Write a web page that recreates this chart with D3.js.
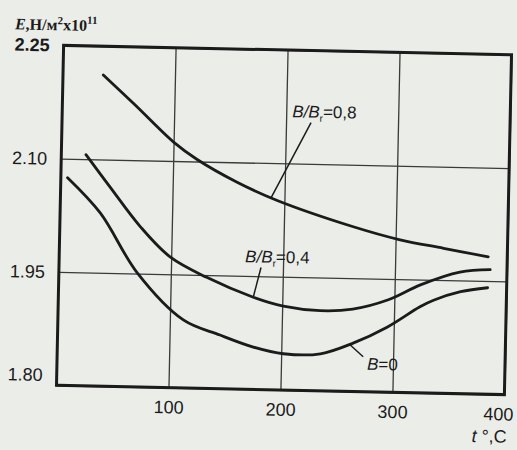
<!DOCTYPE html>
<html>
<head>
<meta charset="utf-8">
<script src="https://cdn.jsdelivr.net/npm/d3@7"></script>
<style>
  html, body { margin: 0; padding: 0; background: #ebede9; }
  svg { display: block; }
</style>
</head>
<body>
<svg id="chart" width="517" height="450"></svg>
<script>
// ---- data ----
const xTicks = [100, 200, 300, 400];
const yTicks = [2.25, 2.10, 1.95, 1.80];

// B/Br = 0.8
const t08 = [36, 65, 100, 121, 157, 193, 262, 304, 343, 383];
const e08 = [2.212, 2.173, 2.125, 2.103, 2.074, 2.051, 2.018, 2.002, 1.992, 1.982];
// B/Br = 0.4
const t04 = [22, 44, 72, 99, 132, 174, 201, 234, 263, 294, 323, 358, 385];
const e04 = [2.106, 2.064, 2.012, 1.973, 1.947, 1.922, 1.911, 1.906, 1.909, 1.922, 1.943, 1.961, 1.965];
// B = 0
const t00 = [6, 36, 70, 112, 145, 175, 202, 235, 264, 294, 323, 335, 359, 383];
const e00 = [2.075, 2.029, 1.951, 1.890, 1.871, 1.856, 1.848, 1.849, 1.864, 1.886, 1.914, 1.923, 1.935, 1.941];

// ---- layout ----
const W = 517, H = 450;
const L = 60, R = 508, T = 50, B = 390;
const ink = "#1b1b1b";

const svg = d3.select("#chart");
svg.append("rect").attr("width", W).attr("height", H).attr("fill", "#ebede9");

// the scanned page is slightly rotated
const g = svg.append("g").attr("transform", "rotate(1.2, 284, 220)");

const x = d3.scaleLinear().domain([0, 400]).range([L, R]);
const y = d3.scaleLinear().domain([1.80, 2.25]).range([B, T]);

// x axis with vertical grid lines
const xAxis = g.append("g")
  .attr("transform", `translate(0,${B})`)
  .call(d3.axisBottom(x).tickValues(xTicks).tickSize(-(B - T)).tickPadding(13).tickFormat(d3.format("d")));
xAxis.select(".domain").remove();
xAxis.selectAll(".tick line").attr("stroke", "#3a3a3a").attr("stroke-width", 1.3);
xAxis.selectAll(".tick text")
  .attr("fill", ink)
  .attr("dx", d => d === 400 ? -6 : 0)
  .style("font-family", "'Liberation Sans', Arial, sans-serif")
  .style("font-size", "18px");

// y axis with horizontal grid lines
const yAxis = g.append("g")
  .attr("transform", `translate(${L},0)`)
  .call(d3.axisLeft(y).tickValues(yTicks).tickSize(-(R - L)).tickPadding(14).tickFormat(d3.format(".2f")));
yAxis.select(".domain").remove();
yAxis.selectAll(".tick line").attr("stroke", "#3a3a3a").attr("stroke-width", 1.3);
yAxis.selectAll(".tick text")
  .attr("fill", ink)
  .style("font-family", "'Liberation Sans', Arial, sans-serif")
  .style("font-size", "18px")
  .style("font-weight", d => d === 2.25 ? "bold" : "normal")
  .attr("dy", d => d === 1.80 ? "-0.25em" : "0.32em");

// frame
g.append("rect")
  .attr("x", L).attr("y", T).attr("width", R - L).attr("height", B - T)
  .attr("fill", "none").attr("stroke", ink).attr("stroke-width", 3);

// curves
const line = d3.line()
  .x(d => x(d[0])).y(d => y(d[1]))
  .curve(d3.curveCatmullRom.alpha(0.5));

const series = [
  { t: t08, e: e08 },
  { t: t04, e: e04 },
  { t: t00, e: e00 }
];
series.forEach(s => {
  const pts = s.t.map((v, i) => [v, s.e[i]]);
  g.append("path")
    .attr("d", line(pts))
    .attr("fill", "none")
    .attr("stroke", ink)
    .attr("stroke-width", 2.8)
    .attr("stroke-linecap", "round");
});

// curve labels with leader lines
const labelFont = "'Liberation Sans', Arial, sans-serif";
function curveLabel(tx, ty, value, l1, l2, sub) {
  const t = g.append("text")
    .attr("x", tx).attr("y", ty)
    .attr("fill", ink)
    .style("font-family", labelFont)
    .style("font-size", "17px");
  if (sub) {
    t.append("tspan").style("font-style", "italic").text("B/B");
    t.append("tspan").style("font-size", "10px").attr("dy", 4).text("r");
    t.append("tspan").attr("dy", -4).text("=" + value);
  } else {
    t.append("tspan").style("font-style", "italic").text("B");
    t.append("tspan").text("=" + value);
  }
  g.append("line")
    .attr("x1", l1[0]).attr("y1", l1[1])
    .attr("x2", x(l2[0])).attr("y2", y(l2[1]))
    .attr("stroke", ink).attr("stroke-width", 1.5);
}
curveLabel(290, 117, "0,8", [309, 122], [188, 2.054], true);
curveLabel(246, 263, "0,4", [262, 268], [174, 1.922], true);
curveLabel(370, 368, "0", [366, 355], [261, 1.862], false);

// axis titles
const yt = g.append("text")
  .attr("x", 11).attr("y", 35)
  .attr("fill", ink)
  .style("font-family", "'Liberation Serif', 'Times New Roman', serif")
  .style("font-size", "16px")
  .style("font-weight", "bold");
yt.append("tspan").style("font-style", "italic").text("E");
yt.append("tspan").text(",Н/м");
yt.append("tspan").attr("dy", -6).style("font-size", "11px").text("2");
yt.append("tspan").attr("dy", 6).text("x10");
yt.append("tspan").attr("dy", -7).style("font-size", "11px").text("11");

const xt = g.append("text")
  .attr("x", 476).attr("y", 438)
  .attr("fill", ink)
  .style("font-family", "'Liberation Sans', Arial, sans-serif")
  .style("font-size", "18px");
xt.append("tspan").style("font-style", "italic").text("t");
xt.append("tspan").text(" °,C");
</script>
</body>
</html>
